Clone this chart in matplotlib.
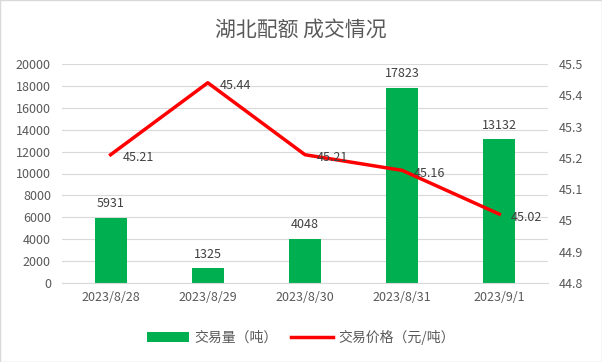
import matplotlib.pyplot as plt
import numpy as np

plt.rcParams['font.family'] = ['Noto Sans CJK SC', 'DejaVu Sans']

dates = ['2023/8/28', '2023/8/29', '2023/8/30', '2023/8/31', '2023/9/1']
volume = [5931, 1325, 4048, 17823, 13132]
price = [45.21, 45.44, 45.21, 45.16, 45.02]

fig = plt.figure(figsize=(6.02, 3.62), dpi=100)
ax = fig.add_axes([62 / 602, 1 - 283 / 362, (548 - 62) / 602, (283 - 64) / 362])
x = np.arange(len(dates))

ax.bar(x, volume, width=0.33, color='#00b050', label='交易量（吨）', zorder=2)
for xi, v in zip(x, volume):
    ax.text(xi, v + 700, str(v), ha='center', va='bottom', fontsize=9, color='#404040')

ax.set_ylim(0, 20000)
ax.set_yticks(np.arange(0, 20001, 2000))
ax.set_xlim(-0.5, len(dates) - 0.5)
ax.set_xticks(x)
ax.set_xticklabels(dates)
ax.grid(axis='y', color='#d9d9d9', lw=0.8, zorder=0)
for s in ['top', 'right', 'left']:
    ax.spines[s].set_visible(False)
ax.spines['bottom'].set_color('#d9d9d9')
ax.tick_params(axis='y', length=0, labelsize=9, colors='#595959', pad=8)
ax.tick_params(axis='x', length=0, labelsize=9, colors='#595959', pad=6)

ax2 = ax.twinx()
ax2.plot(x, price, color='#ff0000', lw=2.5, label='交易价格（元/吨）', zorder=3)
for xi, p in zip(x, price):
    ax2.text(xi + 0.12, p - 0.01, f'{p:.2f}', ha='left', va='center', fontsize=9, color='#404040')
ax2.set_ylim(44.8, 45.5)
ax2.set_yticks(np.round(np.arange(44.8, 45.51, 0.1), 1))
ax2.set_yticklabels(['44.8', '44.9', '45', '45.1', '45.2', '45.3', '45.4', '45.5'])
for s in ax2.spines.values():
    s.set_visible(False)
ax2.tick_params(axis='y', length=0, labelsize=9, colors='#595959', pad=8)

fig.text(0.5, 1 - 30 / 362, '湖北配额 成交情况', ha='center', va='center',
         fontsize=15, color='#595959')

h1, l1 = ax.get_legend_handles_labels()
h2, l2 = ax2.get_legend_handles_labels()
fig.legend(h1 + h2, l1 + l2, loc='center', bbox_to_anchor=(0.5, 1 - 337 / 362), ncol=2,
           frameon=False, fontsize=10, labelcolor='#595959', handlelength=3.0,
           handletextpad=0.4, columnspacing=1.0)

fig.patches.append(plt.Rectangle((0, 0), 1, 1, transform=fig.transFigure,
                                 fill=False, edgecolor='#d9d9d9', lw=1))
fig.savefig('out.png', dpi=100)
